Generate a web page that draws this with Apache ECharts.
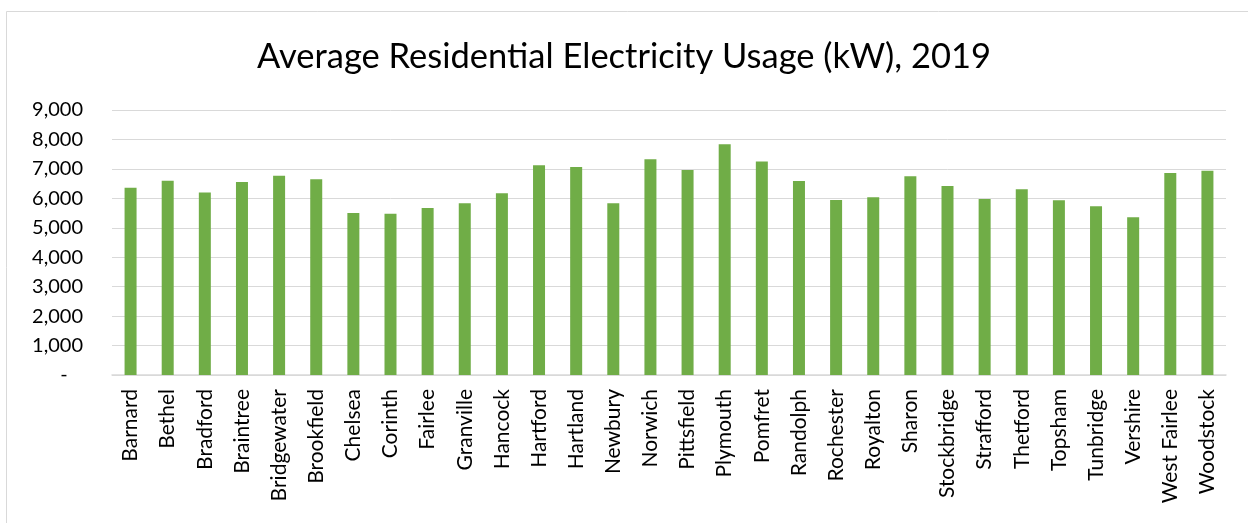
<!DOCTYPE html>
<html>
<head>
<meta charset="utf-8">
<script src="https://cdn.jsdelivr.net/npm/echarts@6/dist/echarts.min.js"></script>
<style>
  html, body { margin: 0; padding: 0; background: #fff; }
  #main { width: 1248px; height: 523px; }
</style>
</head>
<body>
<div id="main"></div>
<script>
// towns on the x axis
var towns = ['Barnard', 'Bethel', 'Bradford', 'Braintree', 'Bridgewater', 'Brookfield',
    'Chelsea', 'Corinth', 'Fairlee', 'Granville', 'Hancock', 'Hartford', 'Hartland',
    'Newbury', 'Norwich', 'Pittsfield', 'Plymouth', 'Pomfret', 'Randolph', 'Rochester',
    'Royalton', 'Sharon', 'Stockbridge', 'Strafford', 'Thetford', 'Topsham', 'Tunbridge',
    'Vershire', 'West Fairlee', 'Woodstock'];

// average usage
var usage = [6360, 6600, 6195, 6555, 6770, 6645,
    5505, 5480, 5675, 5830, 6170, 7120, 7065,
    5830, 7325, 6965, 7835, 7255, 6590, 5945,
    6035, 6750, 6420, 5980, 6305, 5935, 5730,
    5355, 6860, 6940];

var yMin = 0;
var yMax = 9000;
var yStep = 1000;

var myChart = echarts.init(document.getElementById('main'));

var option = {
    backgroundColor: '#fff',
    animation: false,
    textStyle: { fontFamily: 'Lato' },
    title: {
        text: 'Average Residential Electricity Usage (kW), 2019',
        left: 'center',
        top: 34,
        textStyle: { fontFamily: 'Lato', fontSize: 34.5, fontWeight: 'normal', color: '#000' }
    },
    graphic: [{
        // outer chart border
        type: 'rect',
        shape: { x: 6.5, y: 11.5, width: 1300, height: 600 },
        style: { fill: null, stroke: '#d9d9d9', lineWidth: 1 },
        silent: true
    }],
    grid: { left: 112, right: 22, top: 110, bottom: 148 },
    xAxis: {
        type: 'category',
        data: towns,
        axisTick: { show: false },
        axisLine: { lineStyle: { color: '#d9d9d9', width: 1.5 } },
        axisLabel: {
            rotate: 90,
            interval: 0,
            margin: 14,
            fontSize: 21,
            color: '#000',
            fontFamily: 'Lato'
        }
    },
    yAxis: {
        type: 'value',
        min: yMin,
        max: yMax,
        interval: yStep,
        axisLine: { show: false },
        axisTick: { show: false },
        splitLine: { lineStyle: { color: '#d9d9d9', width: 1 } },
        axisLabel: {
            margin: 29,
            fontSize: 20,
            color: '#000',
            fontFamily: 'Lato',
            formatter: function (v) {
                if (v === 0) { return '-   '; }
                return v.toLocaleString('en-US');
            }
        }
    },
    series: [{
        type: 'bar',
        data: usage,
        barWidth: 12,
        itemStyle: { color: '#70ad47' }
    }]
};

myChart.setOption(option);
</script>
</body>
</html>
